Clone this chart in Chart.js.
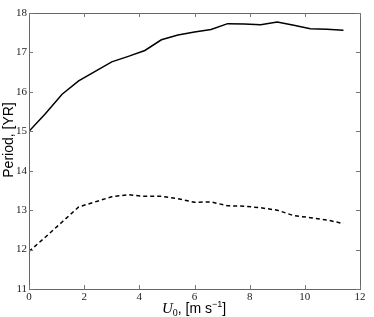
<!DOCTYPE html>
<html>
<head>
<meta charset="utf-8">
<script src="https://cdn.jsdelivr.net/npm/chart.js@4.4.0/dist/chart.umd.min.js"></script>
<style>
  html, body { margin: 0; padding: 0; background: #fff; }
  #wrap { width: 374px; height: 317px; }
</style>
</head>
<body>
<div id="wrap"><canvas id="chart_period" width="374" height="317"></canvas></div>
<script>
// wind speed U0 (m/s)
var u0 = [0, 0.6, 1.2, 1.8, 2.4, 3.0, 3.6, 4.2, 4.8, 5.4, 6.0, 6.6, 7.2, 7.8, 8.4, 9.0, 9.6, 10.2, 10.8, 11.4]
// period in years, solid curve
var period_solid = [15.0, 15.45, 15.94, 16.28, 16.52, 16.76, 16.90, 17.05, 17.32, 17.44, 17.52, 17.58, 17.73, 17.72, 17.70, 17.77, 17.69, 17.60, 17.59, 17.56]
// period in years, dashed curve
var period_dashed = [11.95, 12.32, 12.70, 13.08, 13.21, 13.34, 13.39, 13.35, 13.35, 13.29, 13.20, 13.21, 13.11, 13.10, 13.06, 13.00, 12.86, 12.81, 12.75, 12.66]
var x_ticks = [0, 2, 4, 6, 8, 10, 12]
var y_ticks = [11, 12, 13, 14, 15, 16, 17, 18]

function pairs(xs, ys) {
  return xs.map(function (x, i) { return {x: x, y: ys[i]} })
}

// box around plot + inward ticks on all four sides + axis titles
var frame = {
  id: 'frame',
  afterDraw: function (chart) {
    var ctx = chart.ctx
    var a = chart.chartArea
    var sx = chart.scales.x, sy = chart.scales.y
    ctx.save()
    ctx.strokeStyle = '#666'
    ctx.lineWidth = 1
    ctx.strokeRect(Math.round(a.left) + 0.5, Math.round(a.top) + 0.5, Math.round(a.right - a.left), Math.round(a.bottom - a.top))
    ctx.strokeStyle = '#777'
    ctx.beginPath()
    x_ticks.forEach(function (v) {
      var px = Math.round(sx.getPixelForValue(v)) + 0.5
      ctx.moveTo(px, a.bottom); ctx.lineTo(px, a.bottom - 4)
      ctx.moveTo(px, a.top); ctx.lineTo(px, a.top + 4)
    })
    y_ticks.forEach(function (v) {
      var py = Math.round(sy.getPixelForValue(v)) + 0.5
      ctx.moveTo(a.left, py); ctx.lineTo(a.left + 4, py)
      ctx.moveTo(a.right, py); ctx.lineTo(a.right - 4, py)
    })
    ctx.stroke()

    // y title
    ctx.fillStyle = '#000'
    ctx.translate(9, 140)
    ctx.rotate(-Math.PI / 2)
    ctx.font = '14px "Liberation Sans"'
    ctx.textAlign = 'center'
    ctx.textBaseline = 'middle'
    ctx.fillText('Period, [YR]', 0, 0)
    ctx.setTransform(1, 0, 0, 1, 0, 0)

    // x title, mixed fonts
    var parts = [
      {t: 'U', f: 'italic 15px "Liberation Serif"', dy: 0},
      {t: '0', f: '10px "Liberation Serif"', dy: 3},
      {t: ', [m s', f: '14px "Liberation Sans"', dy: 0},
      {t: '\u22121', f: '9px "Liberation Sans"', dy: -6},
      {t: ']', f: '14px "Liberation Sans"', dy: 0}
    ]
    var total = 0
    parts.forEach(function (p) { ctx.font = p.f; p.w = ctx.measureText(p.t).width; total += p.w })
    var x = 194 - total / 2
    ctx.textAlign = 'left'
    ctx.textBaseline = 'alphabetic'
    parts.forEach(function (p) {
      ctx.font = p.f
      ctx.fillText(p.t, x, 313 + p.dy)
      x += p.w
    })
    ctx.restore()
  }
}

var chart_period = document.getElementById('chart_period').getContext('2d')

var mychart = new Chart(chart_period, {
  type: 'line',
  data: {
    datasets: [{
      data: pairs(u0, period_solid),
      borderColor: '#000',
      borderWidth: 1.5,
      pointRadius: 0,
      fill: false,
      tension: 0
    }, {
      data: pairs(u0, period_dashed),
      borderColor: '#000',
      borderWidth: 1.5,
      borderDash: [4, 3],
      pointRadius: 0,
      fill: false,
      tension: 0
    }]
  },
  options: {
    responsive: false,
    animation: false,
    devicePixelRatio: 1,
    layout: {padding: {top: 13, right: 14, left: 0, bottom: 0}},
    plugins: {legend: {display: false}, tooltip: {enabled: false}},
    scales: {
      x: {
        type: 'linear',
        min: 0,
        max: 12,
        afterFit: function (s) { s.height = 28 },
        afterBuildTicks: function (s) { s.ticks = x_ticks.map(function (v) { return {value: v} }) },
        grid: {display: false, drawTicks: false},
        border: {display: false},
        ticks: {padding: 2, color: '#222', font: {family: '"Liberation Serif"', size: 11}, maxRotation: 0}
      },
      y: {
        type: 'linear',
        min: 11,
        max: 18,
        afterFit: function (s) { s.width = 29 },
        afterBuildTicks: function (s) { s.ticks = y_ticks.map(function (v) { return {value: v} }) },
        grid: {display: false, drawTicks: false},
        border: {display: false},
        ticks: {padding: 2, color: '#222', font: {family: '"Liberation Serif"', size: 11}}
      }
    }
  },
  plugins: [frame]
})
</script>
</body>
</html>
